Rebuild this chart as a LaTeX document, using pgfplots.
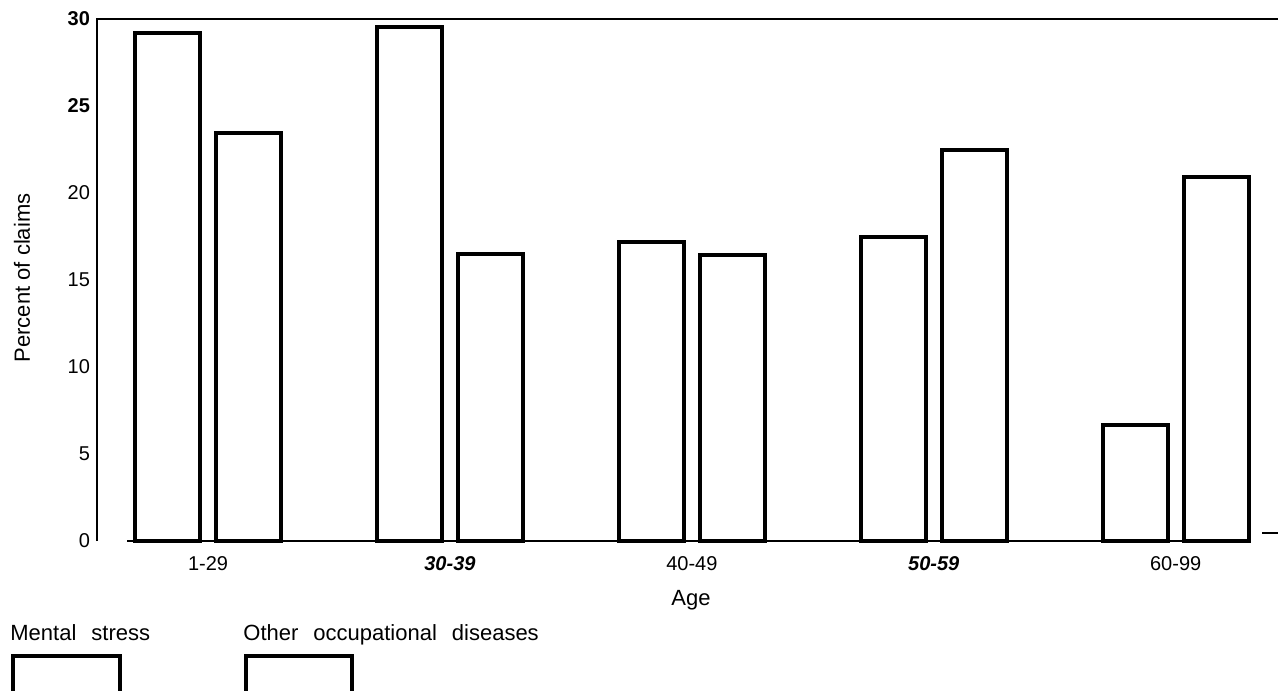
\documentclass[border=0pt]{standalone}
\usepackage{fontspec}
\setmainfont{Liberation Sans}
\usepackage{pgfplots}
\pgfplotsset{compat=1.18}
\begin{document}
\begin{tikzpicture}[x=0.5pt,y=0.5pt,font=\fontsize{11}{13}\selectfont]
\useasboundingbox (0,0) rectangle (1278,-690);
\begin{axis}[
    at={(48.5pt,-270.5pt)}, anchor=south west,
    scale only axis, width=590.5pt, height=261pt,
    xmin=-0.459, xmax=4.423, ymin=0, ymax=30,
    axis line style={draw=none},
    major tick style={draw=none},
    ybar=8pt, bar width=32.5pt,
    xtick={0,...,4},
    xticklabels={1-29,\textbf{\textit{30-39}},40-49,\textbf{\textit{50-59}},60-99},
    ytick={0,5,...,30},
    yticklabels={0,5,10,15,20,\textbf{25},\textbf{30}},
    tick label style={font=\fontsize{10}{12}\selectfont},
    clip=false]

    % Mental stress
    \addplot[draw=black, fill=none, line width=2pt]
        coordinates {(0,29.2) (1,29.54) (2,17.18) (3,17.47) (4,6.67)};
    % Other occupational diseases
    \addplot[draw=black, fill=none, line width=2pt]
        coordinates {(0,23.45) (1,16.5) (2,16.44) (3,22.47) (4,20.92)};
\end{axis}

% frame pieces as in the scan
\draw[line width=1pt] (97,-541) -- (97,-19) -- (1278,-19);
\draw[line width=1.3pt] (127,-541) -- (1240,-541);
\draw[line width=1pt] (1262,-533) -- (1278,-533);

\node[rotate=90] at (22,-278) {Percent of claims};
\node at (691,-600) {Age};

% legend
\node[anchor=base west, inner sep=0] at (10,-640) {Mental\hspace{7.5pt}stress};
\node[anchor=base west, inner sep=0] at (243,-640) {Other\hspace{7.5pt}occupational\hspace{7.5pt}diseases};
\draw[line width=2pt] (13,-700) -- (13,-656) -- (120,-656) -- (120,-700);
\draw[line width=2pt] (246,-700) -- (246,-656) -- (352,-656) -- (352,-700);
\end{tikzpicture}
\end{document}
